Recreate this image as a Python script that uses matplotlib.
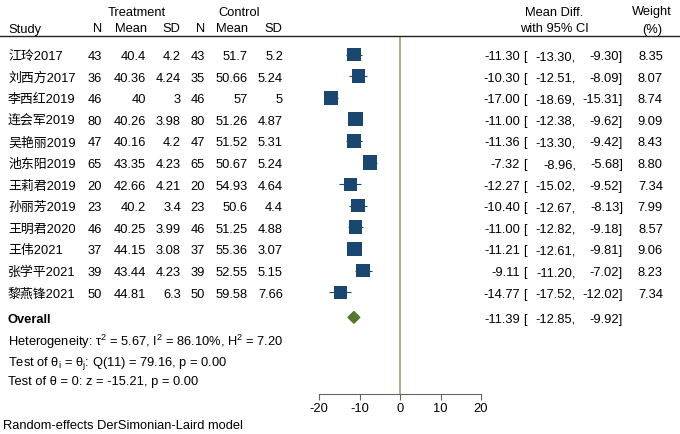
import matplotlib
matplotlib.use("Agg")
import matplotlib.pyplot as plt
from matplotlib.transforms import blended_transform_factory
from matplotlib.lines import Line2D
import numpy as np

plt.rcParams['font.family'] = ['Liberation Sans', 'Noto Sans CJK SC', 'DejaVu Sans']
plt.rcParams['mathtext.fontset'] = 'custom'
plt.rcParams['mathtext.rm'] = 'Liberation Sans'
plt.rcParams['mathtext.it'] = 'Liberation Sans'
plt.rcParams['axes.unicode_minus'] = False

# data
studies = ['江玲2017', '刘西方2017', '李西红2019', '连会军2019', '吴艳丽2019', '池东阳2019',
           '王莉君2019', '孙丽芳2019', '王明君2020', '王伟2021', '张学平2021', '黎燕锋2021']
n_t = [43, 36, 46, 80, 47, 65, 20, 23, 46, 37, 39, 50]
mean_t = ['40.4', '40.36', '40', '40.26', '40.16', '43.35', '42.66', '40.2', '40.25', '44.15', '43.44', '44.81']
sd_t = ['4.2', '4.24', '3', '3.98', '4.2', '4.23', '4.21', '3.4', '3.99', '3.08', '4.23', '6.3']
n_c = [43, 35, 46, 80, 47, 65, 20, 23, 46, 37, 39, 50]
mean_c = ['51.7', '50.66', '57', '51.26', '51.52', '50.67', '54.93', '50.6', '51.25', '55.36', '52.55', '59.58']
sd_c = ['5.2', '5.24', '5', '4.87', '5.31', '5.24', '4.64', '4.4', '4.88', '3.07', '5.15', '7.66']
md = [-11.30, -10.30, -17.00, -11.00, -11.36, -7.32, -12.27, -10.40, -11.00, -11.21, -9.11, -14.77]
ci_lo = [-13.30, -12.51, -18.69, -12.38, -13.30, -8.96, -15.02, -12.67, -12.82, -12.61, -11.20, -17.52]
ci_hi = [-9.30, -8.09, -15.31, -9.62, -9.42, -5.68, -9.52, -8.13, -9.18, -9.81, -7.02, -12.02]
weight = [8.35, 8.07, 8.74, 9.09, 8.43, 8.80, 7.34, 7.99, 8.57, 9.06, 8.23, 7.34]
overall = (-11.39, -12.85, -9.92)
x_ticks = [-20, -10, 0, 10, 20]

W, H = 680, 435
fs = 9.3
blue = '#1a476f'
green = '#55782c'

def fy(y):
    return 1 - y / H

fig = plt.figure(figsize=(W / 100, H / 100), dpi=100)
row0, dy = 55.5, 21.6
top, bot = 37, 395
ax = fig.add_axes([319 / W, fy(bot), 162 / W, (bot - top) / H])
ax.set_xlim(-20, 20)
ax.set_ylim((bot - row0) / dy, (top - row0) / dy)
for s in ['top', 'left', 'right']:
    ax.spines[s].set_visible(False)
ax.spines['bottom'].set_color('#666666')
ax.spines['bottom'].set_linewidth(0.8)
ax.set_yticks([])
ax.set_xticks(x_ticks)
ax.tick_params(axis='x', direction='out', length=4, width=0.8, color='#666666',
               labelsize=fs, pad=2)

rows = np.arange(len(studies))
ax.axvline(0, color='#8aa86a', lw=1.2, zorder=1)
ax.hlines(rows, ci_lo, ci_hi, color=blue, lw=0.8, zorder=2)
side = 14 * 0.72 * np.sqrt(np.array(weight) / 8.74)
ax.scatter(md, rows, s=side ** 2, marker='s', color=blue, edgecolors='none', zorder=3)

ov_row = 12.17
ax.fill([overall[1], overall[0], overall[2], overall[0]],
        [ov_row, ov_row - 0.27, ov_row, ov_row + 0.27], color=green, zorder=3, clip_on=False)

tr = blended_transform_factory(fig.transFigure, ax.transData)

def col(x, y, s, ha='right', **kw):
    ax.text(x / W, y, s, transform=tr, ha=ha, va='center_baseline', fontsize=fs, **kw)

for i in rows:
    col(8, i, studies[i], ha='left')
    col(102, i, str(n_t[i]))
    col(146, i, mean_t[i])
    col(181, i, sd_t[i])
    col(205, i, str(n_c[i]))
    col(248, i, mean_c[i])
    col(283, i, sd_c[i])
    col(520, i, f"{md[i]:.2f}")
    col(523, i, "[", ha='left')
    col(576, i, f"{ci_lo[i]:.2f},")
    col(623, i, f"{ci_hi[i]:.2f}]")
    col(663, i, f"{weight[i]:.2f}")

col(8, ov_row, "Overall", ha='left', fontweight='bold')
col(520, ov_row, f"{overall[0]:.2f}")
col(523, ov_row, "[", ha='left')
col(576, ov_row, f"{overall[1]:.2f},")
col(623, ov_row, f"{overall[2]:.2f}]")

def ftext(x, y, s, ha='left'):
    fig.text(x / W, fy(y), s, ha=ha, va='center_baseline', fontsize=fs)

# headers
ftext(137, 11, "Treatment", 'center')
ftext(239, 11, "Control", 'center')
ftext(554, 11, "Mean Diff.", 'center')
ftext(652, 11, "Weight", 'center')
ftext(8, 28, "Study")
ftext(102, 28, "N", 'right')
ftext(147, 28, "Mean", 'right')
ftext(180, 28, "SD", 'right')
ftext(205, 28, "N", 'right')
ftext(248, 28, "Mean", 'right')
ftext(282, 28, "SD", 'right')
ftext(554, 28, "with 95% CI", 'center')
ftext(652, 28, "(%)", 'center')
fig.add_artist(Line2D([0, 1], [fy(top), fy(top)], color='#222222', lw=1.0))

ftext(8, 339, r"Heterogeneity: τ$^2$ = 5.67, I$^2$ = 86.10%, H$^2$ = 7.20")
ftext(8, 360, r"Test of θ$_\mathrm{i}$ = θ$_\mathrm{j}$: Q(11) = 79.16, p = 0.00")
ftext(8, 381, "Test of θ = 0: z = -15.21, p = 0.00")
ftext(3, 425, "Random-effects DerSimonian-Laird model")

fig.savefig("out.png", dpi=100)
